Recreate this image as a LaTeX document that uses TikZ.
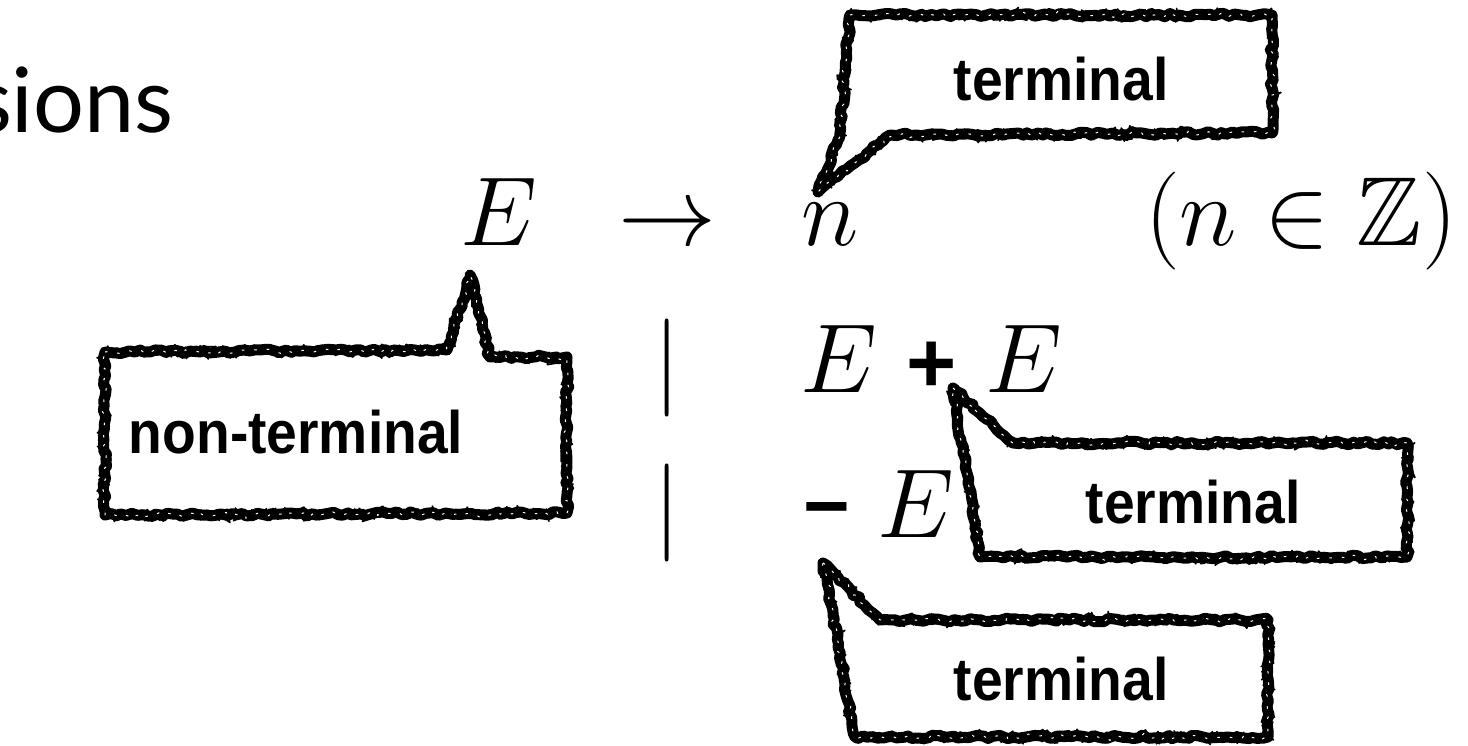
\RequirePackage{fix-cm}
\documentclass[tikz,border=0pt]{standalone}
\usepackage{amssymb}
\usepackage[no-math]{fontspec}
\newfontfamily\labfont{Liberation Sans}
\newfontfamily\titlefont{Lato}
\usetikzlibrary{decorations.pathmorphing}
\pgfmathsetmacro\dummy{1}
\pgfmathsetseed{11}
\tikzset{
  lab/.style={font=\labfont\bfseries\fontsize{60}{70}\selectfont, inner sep=0pt, anchor=base, xscale=0.92, transform shape},
  mth/.style={font=\fontsize{98}{110}\selectfont, inner sep=0pt, anchor=base west},
  opsym/.style={font=\labfont\bfseries\fontsize{86}{100}\selectfont, inner sep=0pt, anchor=base},
  callout/.style={fill=white, draw=black, line width=11pt, line join=round,
    decorate, decoration={random steps, segment length=5pt, amplitude=1.8pt},
    postaction={draw=black, line width=3.5pt, decorate,
      decoration={random steps, segment length=3pt, amplitude=5pt}},
    postaction={draw=black, line width=1.6pt, decorate,
      decoration={random steps, segment length=2pt, amplitude=6.5pt}},
    postaction={draw=white, line width=1pt, dash pattern=on 2.5pt off 10pt, decorate,
      decoration={random steps, segment length=4pt, amplitude=3pt}}}
}
\begin{document}
\begin{tikzpicture}[x=1pt,y=-1pt]
\useasboundingbox (0,0) rectangle (1468,745);

% title fragment
\node[font=\titlefont\fontsize{90}{100}\selectfont, inner sep=0pt, anchor=base east] (title) at (174,132) {sions};

% grammar
\node[mth] (E1) at (460,245) {$E$};
\node[mth] (arr) at (618,245) {$\rightarrow$};
\node[mth] (n1) at (801,245) {$n$};
\node[mth] (cond) at (1145,245) {$(n \in \mathbb{Z})$};

\node[mth, anchor=base] (bar2) at (667,392) {$\mid$};
\node[mth] (E2a) at (800,392) {$E$};
\node[opsym] (plus) at (932,392) {+};
\node[mth] (E2b) at (985,392) {$E$};

\node[mth, anchor=base] (bar3) at (667,537) {$\mid$};
\node[opsym, font=\labfont\bfseries\fontsize{80}{92}\selectfont] (minus) at (827,533) {−};
\node[mth] (E3) at (877,537) {$E$};

% callouts
\path[callout] (850,15) -- (1272,15) -- (1272,133) -- (890,135) -- (818,192) -- (840,133) -- cycle;
\node[lab] (t1) at (1061,100) {terminal};

\path[callout] (105,352) -- (447,350) -- (470,275) -- (490,357) -- (567,357) -- (567,513) -- (105,515) -- cycle;
\node[lab] (nt) at (296,453) {non-terminal};

\path[callout] (953,388) -- (1013,443) -- (1407,443) -- (1407,557) -- (980,557) -- cycle;
\node[lab] (t2) at (1193,523) {terminal};

\path[callout] (823,563) -- (880,620) -- (1268,620) -- (1268,737) -- (855,737) -- cycle;
\node[lab] (t3) at (1061,700) {terminal};
\end{tikzpicture}
\end{document}
